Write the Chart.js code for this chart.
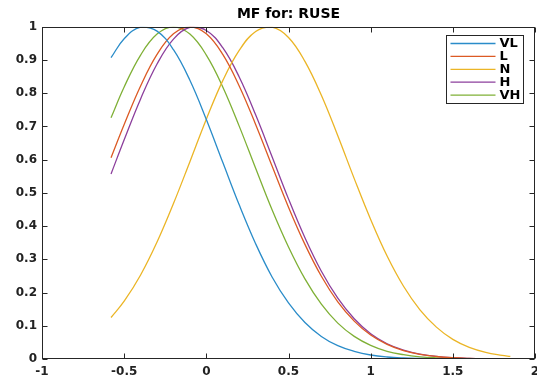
<!DOCTYPE html>
<html>
<head>
  <meta charset="UTF-8">
  <title>MF for: RUSE</title>
  <style>
    body {
      margin: 0;
      background: #ffffff;
    }
    canvas {
      display: block;
    }
  </style>
  <script src="https://cdn.jsdelivr.net/npm/chart.js"></script>
</head>
<body>

  <canvas id="mfChart" width="537" height="379"></canvas>

  <script>
    // values
    const xValues = [-0.58, -0.5, -0.4, -0.3, -0.2, -0.1, 0, 0.1, 0.2, 0.3, 0.4, 0.5, 0.6,
                     0.7, 0.8, 0.9, 1.0, 1.1, 1.2, 1.3, 1.4, 1.5, 1.6, 1.7, 1.8, 1.85];
    const vlValues = [0.907, 0.964, 0.999, 0.987, 0.931, 0.839, 0.721, 0.592, 0.464, 0.347, 0.247, 0.169, 0.110,
                      0.068, 0.040, 0.023, 0.012, 0.006, 0.003, 0.0015, 0.0007, 0.0003, 0.0001, 0, 0, 0];
    const lValues = [0.606, 0.706, 0.822, 0.917, 0.979, 1.0, 0.979, 0.917, 0.822, 0.706, 0.581, 0.457, 0.345,
                     0.249, 0.172, 0.114, 0.072, 0.044, 0.025, 0.014, 0.0075, 0.0038, 0.0019, 0.0009, 0.0004, 0.0003];
    const nValues = [0.125, 0.174, 0.253, 0.352, 0.468, 0.594, 0.722, 0.838, 0.929, 0.986, 0.999, 0.968, 0.896,
                     0.794, 0.672, 0.543, 0.420, 0.310, 0.219, 0.148, 0.096, 0.059, 0.035, 0.020, 0.011, 0.0076];
    const hValues = [0.557, 0.660, 0.783, 0.888, 0.963, 0.998, 0.989, 0.937, 0.849, 0.735, 0.609, 0.482, 0.365,
                     0.264, 0.183, 0.121, 0.076, 0.046, 0.027, 0.015, 0.0078, 0.0039, 0.0019, 0.0009, 0.0004, 0.0003];
    const vhValues = [0.726, 0.819, 0.915, 0.978, 1.0, 0.978, 0.915, 0.819, 0.701, 0.574, 0.449, 0.337, 0.241,
                      0.165, 0.108, 0.068, 0.041, 0.023, 0.013, 0.0067, 0.0034, 0.0016, 0.0007, 0.0003, 0.0001, 0.0001];

    const seriesNames = ['VL', 'L', 'N', 'H', 'VH'];
    const seriesColors = ['#2a8cc9', '#dc5a24', '#ebb526', '#8c3f9c', '#7fb036'];
    const xTicks = [-1, -0.5, 0, 0.5, 1, 1.5, 2];
    const yTicks = [0, 0.1, 0.2, 0.3, 0.4, 0.5, 0.6, 0.7, 0.8, 0.9, 1];

    const allValues = [vlValues, lValues, nValues, hValues, vhValues];

    const FONT = "'DejaVu Sans', sans-serif";

    // box, inward ticks and legend like matlab
    const matlabBox = {
      id: 'matlabBox',
      afterDraw(chart) {
        const ctx = chart.ctx;
        const a = chart.chartArea;
        const xs = chart.scales.x, ys = chart.scales.y;
        const L = Math.round(a.left) + 0.5, R = Math.round(a.right) - 0.5;
        const T = Math.round(a.top) + 0.5, B = Math.round(a.bottom) - 0.5;
        ctx.save();
        ctx.strokeStyle = '#262626';
        ctx.lineWidth = 1;
        ctx.strokeRect(L, T, R - L, B - T);
        ctx.beginPath();
        xTicks.forEach(v => {
          const px = Math.round(xs.getPixelForValue(v)) + 0.5;
          ctx.moveTo(px, B); ctx.lineTo(px, B - 5);
          ctx.moveTo(px, T); ctx.lineTo(px, T + 5);
        });
        yTicks.forEach(v => {
          const py = Math.round(ys.getPixelForValue(v)) + 0.5;
          ctx.moveTo(L, py); ctx.lineTo(L + 5, py);
          ctx.moveTo(R, py); ctx.lineTo(R - 5, py);
        });
        ctx.stroke();

        // legend
        const bx = Math.round(a.right) - 88.5, by = Math.round(a.top) + 8.5;
        const bw = 77, bh = 68;
        ctx.fillStyle = '#ffffff';
        ctx.fillRect(bx, by, bw, bh);
        ctx.strokeStyle = '#262626';
        ctx.strokeRect(bx, by, bw, bh);
        ctx.font = 'bold 13px ' + FONT;
        ctx.textBaseline = 'middle';
        chart.data.datasets.forEach((ds, i) => {
          const cy = by + 8 + i * 12.9;
          ctx.strokeStyle = ds.borderColor;
          ctx.lineWidth = 1.3;
          ctx.beginPath();
          ctx.moveTo(bx + 4, cy);
          ctx.lineTo(bx + 49, cy);
          ctx.stroke();
          ctx.fillStyle = '#000000';
          ctx.fillText(ds.label, bx + 53, cy + 0.5);
        });
        ctx.restore();
      }
    };

    const ctx = document.getElementById('mfChart').getContext('2d');
    const mfChart = new Chart(ctx, {
      type: 'line',
      data: {
        datasets: seriesNames.map((name, i) => ({
          label: name,
          data: xValues.map((x, j) => ({ x: x, y: allValues[i][j] })),
          borderColor: seriesColors[i],
          backgroundColor: seriesColors[i],
          borderWidth: 1.3,
          pointRadius: 0,
          tension: 0.4,
          fill: false
        }))
      },
      options: {
        responsive: false,
        animation: false,
        layout: { padding: { left: 0, right: 2, top: 0, bottom: 0 } },
        plugins: {
          legend: { display: false },
          tooltip: { enabled: false },
          title: {
            display: true,
            text: 'MF for: RUSE',
            fullSize: false,
            color: '#000000',
            font: { family: FONT, size: 14, weight: 'bold' },
            padding: { top: 6, bottom: 4 }
          }
        },
        scales: {
          x: {
            type: 'linear',
            min: -1,
            max: 2,
            afterBuildTicks: scale => { scale.ticks = xTicks.map(v => ({ value: v })); },
            afterFit: scale => {
              scale.height = 20;
              scale.paddingLeft = 0;
              scale.paddingRight = 0;
            },
            grid: { display: false, drawTicks: false },
            border: { display: false },
            ticks: {
              padding: 6,
              color: '#222222',
              maxRotation: 0,
              autoSkip: false,
              callback: v => String(v),
              font: { family: FONT, size: 12, weight: 'bold' }
            }
          },
          y: {
            min: 0,
            max: 1,
            afterBuildTicks: scale => { scale.ticks = yTicks.map(v => ({ value: v })); },
            afterFit: scale => {
              scale.width = 42;
              scale.paddingTop = 0;
              scale.paddingBottom = 0;
            },
            grid: { display: false, drawTicks: false },
            border: { display: false },
            ticks: {
              padding: 5,
              color: '#222222',
              autoSkip: false,
              callback: v => String(v),
              font: { family: FONT, size: 12, weight: 'bold' }
            }
          }
        }
      },
      plugins: [matlabBox]
    });
  </script>

</body>
</html>
